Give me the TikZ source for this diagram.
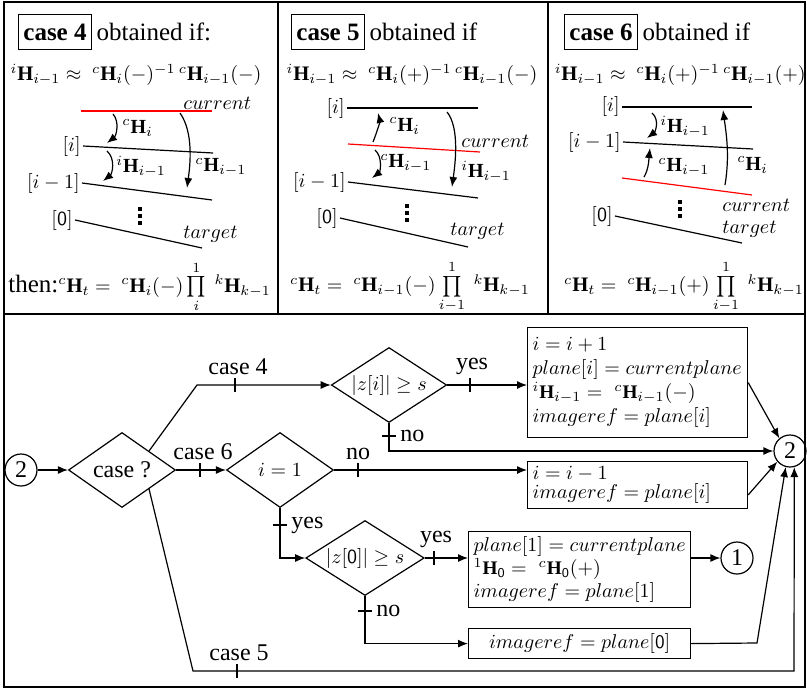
\documentclass[tikz,border=0pt]{standalone}
\usepackage{amsmath,amssymb}
\usepackage{fontspec}
\setmainfont{Liberation Serif}
\usetikzlibrary{shapes.geometric,arrows.meta}
\newcommand{\myH}[2]{{}^{#1}\mathbf{H}_{#2}}
\newcommand{\vdts}[2]{\fill (#1-2,#2) rectangle +(4,4); \fill (#1-2,#2+7) rectangle +(4,4); \fill (#1-2,#2+14) rectangle +(4,4);}
\begin{document}
\begin{tikzpicture}[x=0.5pt,y=-0.5pt,
  ln/.style={line width=0.6pt},
  arr/.style={ln,-{Latex[length=5pt,width=4pt]}},
  dia/.style={diamond,draw,ln,aspect=2,inner sep=0pt,minimum width=53.5pt,minimum height=37.5pt,font=\fontsize{12}{14}\selectfont},
  circ/.style={circle,draw,ln,minimum size=16pt,inner sep=0pt,font=\fontsize{12}{14}\selectfont},
  box/.style={draw,ln,align=left,inner sep=3pt,anchor=north west,font=\fontsize{9.6}{12}\selectfont},
  lbl/.style={font=\fontsize{12}{14}\selectfont,inner sep=1pt},
  ttl/.style={font=\fontsize{12.5}{14}\selectfont,inner sep=1pt},
  cbox/.style={draw,ln,font=\bfseries\fontsize{12.5}{14}\selectfont,inner sep=2.5pt,minimum height=17.5pt},
  fm/.style={font=\fontsize{10.3}{12}\selectfont,inner sep=0pt},
  ml/.style={font=\fontsize{10}{12}\selectfont,inner sep=1pt},
  redl/.style={line width=0.6pt,red},
]
\useasboundingbox (0,0) rectangle (807,690);
% frame
\draw[ln] (4,2) rectangle (805,687);
\draw[ln] (4,314) -- (805,314);
\draw[ln] (278,2) -- (278,314);
\draw[ln] (548,2) -- (548,314);

% ================= panel 1 =================
\node[cbox] (t4) at (55,32) {case 4};
\node[ttl,anchor=west] (o4) at ([xshift=1pt]t4.east) {obtained if:};
\node[fm] (f4) at (136,75) {$\myH{i}{i-1}\approx\ \myH{c}{i}(-)^{-1}\,\myH{c}{i-1}(-)$};
\coordinate (a4c1) at (81,111); \coordinate (a4c2) at (212,111);
\draw[redl] (a4c1) -- (a4c2);
\node[ml,anchor=west] (cur4) at (181,103) {$current$};
\coordinate (a4i1) at (83,146); \coordinate (a4i2) at (213,153);
\draw[ln] (a4i1) -- (a4i2);
\node[ml,anchor=east] (li4) at (a4i1) {$[i]$};
\coordinate (a4m1) at (82,183); \coordinate (a4m2) at (212,200);
\draw[ln] (a4m1) -- (a4m2);
\node[ml,anchor=east] (lm4) at (a4m1) {$[i-1]$};
\coordinate (a401) at (75,220); \coordinate (a402) at (202,248);
\draw[ln] (a401) -- (a402);
\node[ml,anchor=east] (l04) at (a401) {$[\mathsf{0}]$};
\node[ml,anchor=west] (tg4) at (181,234) {$target$};
\vdts{140}{207}
\coordinate (q4a) at (113,114); \coordinate (q4b) at (107,143);
\draw[arr] (q4a) .. controls +(7,8) and +(9,-7) .. (q4b);
\node[ml,anchor=west] (h4a) at (120,128) {$\myH{c}{i}$};
\coordinate (q4c) at (180,113); \coordinate (q4d) at (187,188);
\draw[arr] (q4c) .. controls +(14,20) and +(3,-22) .. (q4d);
\node[ml,anchor=west] (h4b) at (193,167) {$\myH{c}{i-1}$};
\coordinate (q4e) at (107,151); \coordinate (q4f) at (103,181);
\draw[arr] (q4e) .. controls +(9,8) and +(9,-7) .. (q4f);
\node[ml,anchor=west] (h4c) at (114,167) {$\myH{i}{i-1}$};
\node[fm,anchor=west] (g4) at (8,287) {{\fontsize{12.5}{14}\selectfont then:}$\myH{c}{t}=\ \myH{c}{i}(-)\prod\limits_{i}^{1}\ \myH{k}{k-1}$};

% ================= panel 2 =================
\node[cbox] (t5) at (328,32) {case 5};
\node[ttl,anchor=west] (o5) at ([xshift=1pt]t5.east) {obtained if};
\node[fm] (f5) at (412,75) {$\myH{i}{i-1}\approx\ \myH{c}{i}(+)^{-1}\,\myH{c}{i-1}(-)$};
\coordinate (a5i1) at (347,108); \coordinate (a5i2) at (478,108);
\draw[ln] (a5i1) -- (a5i2);
\node[ml,anchor=east] (li5) at (a5i1) {$[i]$};
\coordinate (a5c1) at (348,144); \coordinate (a5c2) at (480,152);
\draw[redl] (a5c1) -- (a5c2);
\node[ml,anchor=west] (cur5) at (459,141) {$current$};
\coordinate (a5m1) at (348,182); \coordinate (a5m2) at (478,198);
\draw[ln] (a5m1) -- (a5m2);
\node[ml,anchor=east] (lm5) at (a5m1) {$[i-1]$};
\coordinate (a501) at (340,218); \coordinate (a502) at (468,247);
\draw[ln] (a501) -- (a502);
\node[ml,anchor=east] (l05) at (a501) {$[\mathsf{0}]$};
\node[ml,anchor=west] (tg5) at (448,231) {$target$};
\vdts{407}{204}
\coordinate (q5a) at (373,142); \coordinate (q5b) at (378,113);
\draw[arr] (q5a) .. controls +(4,-10) and +(2,8) .. (q5b);
\node[ml,anchor=west] (h5a) at (387,126) {$\myH{c}{i}$};
\coordinate (q5c) at (447,112); \coordinate (q5d) at (452,187);
\draw[arr] (q5c) .. controls +(13,16) and +(3,-22) .. (q5d);
\node[ml,anchor=west] (h5b) at (459,172) {$\myH{i}{i-1}$};
\coordinate (q5e) at (375,150); \coordinate (q5f) at (372,178);
\draw[arr] (q5e) .. controls +(8,7) and +(8,-6) .. (q5f);
\node[ml,anchor=west] (h5c) at (378,163) {$\myH{c}{i-1}$};
\node[fm] (g5) at (410,287) {$\myH{c}{t}=\ \myH{c}{i-1}(-)\prod\limits_{i-1}^{1}\ \myH{k}{k-1}$};

% ================= panel 3 =================
\node[cbox] (t6) at (601,32) {case 6};
\node[ttl,anchor=west] (o6) at ([xshift=1pt]t6.east) {obtained if};
\node[fm,anchor=east] (f6) at (806,75) {$\myH{i}{i-1}\approx\ \myH{c}{i}(+)^{-1}\,\myH{c}{i-1}(+)$};
\coordinate (a6i1) at (622,107); \coordinate (a6i2) at (752,107);
\draw[ln] (a6i1) -- (a6i2);
\node[ml,anchor=east] (li6) at (a6i1) {$[i]$};
\coordinate (a6m1) at (623,142); \coordinate (a6m2) at (753,149);
\draw[ln] (a6m1) -- (a6m2);
\node[ml,anchor=east] (lm6) at (a6m1) {$[i-1]$};
\coordinate (a6c1) at (622,178); \coordinate (a6c2) at (752,195);
\draw[redl] (a6c1) -- (a6c2);
\node[ml,anchor=west] (cur6) at (720,205) {$current$};
\coordinate (a601) at (615,216); \coordinate (a602) at (742,243);
\draw[ln] (a601) -- (a602);
\node[ml,anchor=east] (l06) at (a601) {$[\mathsf{0}]$};
\node[ml,anchor=west] (tg6) at (720,229) {$target$};
\vdts{680}{200}
\coordinate (q6a) at (652,113); \coordinate (q6b) at (647,138);
\draw[arr] (q6a) .. controls +(8,7) and +(8,-6) .. (q6b);
\node[ml,anchor=west] (h6a) at (658,127) {$\myH{i}{i-1}$};
\coordinate (q6c) at (644,177); \coordinate (q6d) at (650,148);
\draw[arr] (q6c) .. controls +(5,-8) and +(-1,9) .. (q6d);
\node[ml,anchor=west] (h6b) at (656,167) {$\myH{c}{i-1}$};
\coordinate (q6e) at (725,185); \coordinate (q6f) at (723,110);
\draw[arr] (q6e) .. controls +(5,-30) and +(3,22) .. (q6f);
\node[ml,anchor=west] (h6c) at (735,165) {$\myH{c}{i}$};
\node[fm] (g6) at (684,287) {$\myH{c}{t}=\ \myH{c}{i-1}(+)\prod\limits_{i-1}^{1}\ \myH{k}{k-1}$};

% ================= flowchart =================
\node[circ] (s2) at (21,470) {2};
\node[dia] (cq) at (122,470) {case ?};
\node[dia,font=\fontsize{10}{12}\selectfont] (zi) at (389,385) {$|z[i]|\geq s$};
\node[dia,font=\fontsize{10}{12}\selectfont] (i1) at (280,470) {$i=1$};
\node[dia,font=\fontsize{10}{12}\selectfont] (z0) at (365,558) {$|z[\mathsf{0}]|\geq s$};
\node[box,text width=105pt,inner sep=2.5pt,minimum height=55pt] (b1) at (527,327)
  {\mbox{$i=i+1$}\\ \mbox{$plane[i]=currentplane$}\\ \mbox{$\myH{i}{i-1}=\ \myH{c}{i-1}(-)$}\\ \mbox{$imageref=plane[i]$}};
\node[box,font=\fontsize{9.6}{9.5}\selectfont,inner sep=2.5pt,text width=105pt] (b2) at (527,461)
  {\mbox{$i=i-1$}\\ \mbox{$imageref=plane[i]$}};
\node[box,text width=106pt,inner sep=2.5pt,font=\fontsize{9.6}{11.5}\selectfont] (b3) at (468,531)
  {\mbox{$plane[1]=currentplane$}\\ \mbox{$\myH{1}{\mathsf{0}}=\ \myH{c}{\mathsf{0}}(+)$}\\ \mbox{$imageref=plane[1]$}};
\node[box,minimum width=111pt,align=center,inner sep=2.5pt] (b4) at (468,628) {$imageref=plane[\mathsf{0}]$};
\node[circ] (e2) at (790,451) {2};
\node[circ] (c1) at (737,558) {1};
\coordinate (k4) at (197,385);
\coordinate (k5) at (193,671);
\coordinate (k5b) at (794,671);
\coordinate (k4b) at (757,643);

\draw[arr] (s2) -- (cq.west);
\draw[arr] (cq.north east) -- (k4) -- (zi.west);
\draw[arr] (cq.east) -- (i1.west);
\draw[arr] (cq.south east) -- (k5) -- (k5b) -- (e2.-75);
\draw[arr] (zi.east) -- (b1.west |- zi.east);
\draw[arr] (zi.south) |- (e2.west);
\draw[arr] (i1.east) -- (b2.west |- i1.east);
\draw[arr] (i1.south) |- (z0.west);
\draw[arr] (z0.east) -- (b3.west |- z0.east);
\draw[arr] (z0.south) |- (b4.west);
\draw[arr] (b3.east |- c1) -- (c1);
\draw[arr] (b1.east) -- (e2.130);
\draw[arr] (b2.-5) -- (e2.-140);
\draw[arr] (b4.east) -- (k4b) -- (e2.-105);

% ticks and labels
\coordinate (tk4) at (235,385);
\draw[ln] (tk4) ++(0,-7) -- ++(0,14);
\node[lbl,anchor=south] (lc4) at (238,377) {case 4};
\coordinate (tk6) at (200,470);
\draw[ln] (tk6) ++(0,-7) -- ++(0,14);
\node[lbl,anchor=south] (lc6) at (203,462) {case 6};
\coordinate (tk5) at (237,671);
\draw[ln] (tk5) ++(0,-7) -- ++(0,14);
\node[lbl,anchor=south] (lc5) at (239,663) {case 5};
\coordinate (tky1) at (470,385);
\draw[ln] (tky1) ++(0,-7) -- ++(0,14);
\node[lbl,anchor=south] (ly1) at (472,377) {yes};
\coordinate (tkn1) at (389,436);
\draw[ln] (tkn1) ++(-7,0) -- ++(14,0);
\node[lbl,anchor=west] (ln1) at (398,436) {no};
\coordinate (tkn2) at (358,470);
\draw[ln] (tkn2) ++(0,-7) -- ++(0,14);
\node[lbl,anchor=south] (ln2) at (358,462) {no};
\coordinate (tky2) at (280,525);
\draw[ln] (tky2) ++(-7,0) -- ++(14,0);
\node[lbl,anchor=west] (ly2) at (289,525) {yes};
\coordinate (tky3) at (434,558);
\draw[ln] (tky3) ++(0,-7) -- ++(0,14);
\node[lbl,anchor=south] (ly3) at (436,550) {yes};
\coordinate (tkn3) at (365,611);
\draw[ln] (tkn3) ++(-7,0) -- ++(14,0);
\node[lbl,anchor=west] (ln3) at (374,611) {no};
\end{tikzpicture}
\end{document}
